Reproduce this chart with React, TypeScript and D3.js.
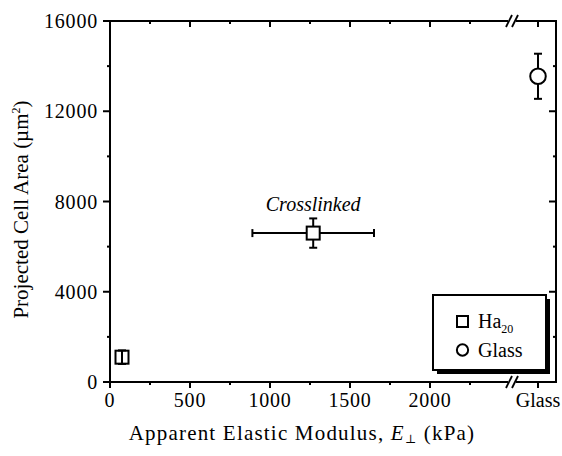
import * as d3 from 'd3';
import React, { useEffect, useRef } from 'react';

// values
const seriesNames = ['Ha20', 'Glass'];
const haModulus = [75, 1270];          // kPa
const haModulusErr = [0, 380];
const haArea = [1100, 6600];           // µm²
const haAreaErr = [300, 650];
const glassArea = [13550];
const glassAreaErr = [1000];
const xMajorTicks = [0, 500, 1000, 1500, 2000];
const xMinorTicks = [250, 750, 1250, 1750, 2250];
const yMajorTicks = [0, 4000, 8000, 12000, 16000];
const yMinorTicks = [2000, 6000, 10000, 14000];
const glassCategory = ['Glass'];

const W = 562;
const H = 456;
const FONT = "'Liberation Serif', 'DejaVu Serif', serif";

const App: React.FC = () => {
    const svgRef = useRef<SVGSVGElement | null>(null);

    useEffect(() => {
        const left = 110, right = 556, top = 21, bottom = 382;
        const breakX = 512;

        d3.select(svgRef.current).selectAll('*').remove();
        const svg = d3.select(svgRef.current).attr('width', W).attr('height', H)
            .style('font-family', FONT);

        const x = d3.scaleLinear().domain([0, 2000]).range([left, 430]);
        const xg = d3.scalePoint().domain(glassCategory).range([520, 556]);
        const y = d3.scaleLinear().domain([0, 16000]).range([bottom, top]);

        const frame = svg.append('g').attr('stroke', '#000').attr('stroke-width', 2).attr('fill', 'none');
        // left / right sides
        frame.append('line').attr('x1', left).attr('x2', left).attr('y1', top).attr('y2', bottom);
        frame.append('line').attr('x1', right).attr('x2', right).attr('y1', top).attr('y2', bottom);
        // top and bottom with a gap for the break
        [top, bottom].forEach(yy => {
            frame.append('line').attr('x1', left - 1).attr('x2', breakX - 4).attr('y1', yy).attr('y2', yy);
            frame.append('line').attr('x1', breakX + 4).attr('x2', right + 1).attr('y1', yy).attr('y2', yy);
            [-3, 3].forEach(dx => {
                frame.append('line')
                    .attr('x1', breakX + dx - 3).attr('x2', breakX + dx + 3)
                    .attr('y1', yy + 6).attr('y2', yy - 6)
                    .attr('stroke-width', 1.8);
            });
        });

        // x ticks (bottom outward, top inward)
        const tickG = svg.append('g').attr('stroke', '#000').attr('stroke-width', 2);
        const xTickPos = [
            ...xMajorTicks.map(v => ({ px: x(v), len: 6 })),
            ...xMinorTicks.map(v => ({ px: x(v), len: 3 })),
            { px: xg('Glass')!, len: 6 },
        ];
        xTickPos.forEach(t => {
            tickG.append('line').attr('x1', t.px).attr('x2', t.px).attr('y1', bottom).attr('y2', bottom + t.len);
            tickG.append('line').attr('x1', t.px).attr('x2', t.px).attr('y1', top).attr('y2', top + t.len);
        });
        const yTickPos = [
            ...yMajorTicks.map(v => ({ py: y(v), len: 7 })),
            ...yMinorTicks.map(v => ({ py: y(v), len: 3 })),
        ];
        yTickPos.forEach(t => {
            tickG.append('line').attr('x1', left - t.len).attr('x2', left).attr('y1', t.py).attr('y2', t.py);
            tickG.append('line').attr('x1', right - t.len).attr('x2', right).attr('y1', t.py).attr('y2', t.py);
        });

        // tick labels
        const labels = svg.append('g').style('font-family', FONT).attr('font-size', 20).attr('fill', '#000');
        xMajorTicks.forEach(v => {
            labels.append('text').attr('x', x(v)).attr('y', 407).attr('text-anchor', 'middle')
                .attr('letter-spacing', 0.8).text(d3.format('d')(v));
        });
        labels.append('text').attr('x', xg('Glass')!).attr('y', 407).attr('text-anchor', 'middle').text('Glass');
        yMajorTicks.forEach(v => {
            labels.append('text').attr('x', 98).attr('y', y(v) + 7).attr('text-anchor', 'end')
                .attr('letter-spacing', 0.8).text(d3.format('d')(v));
        });

        // axis titles
        const xt = labels.append('text').attr('x', 302).attr('y', 440).attr('text-anchor', 'middle')
            .attr('font-size', 21).attr('letter-spacing', 1.2);
        xt.append('tspan').text('Apparent Elastic Modulus, ');
        xt.append('tspan').attr('font-style', 'italic').text('E');
        xt.append('tspan').attr('font-size', 12).attr('dy', 3).text('⊥');
        xt.append('tspan').attr('dy', -3).text(' (kPa)');

        const yt = labels.append('text')
            .attr('transform', `translate(28,${(top + bottom) / 2 + 8}) rotate(-90)`)
            .attr('text-anchor', 'middle')
            .attr('font-size', 21);
        yt.append('tspan').text('Projected Cell Area (µm');
        yt.append('tspan').attr('font-size', 12).attr('dy', -8).text('2');
        yt.append('tspan').attr('dy', 8).text(')');

        // error bars
        const err = svg.append('g').attr('stroke', '#000').attr('stroke-width', 2);
        const cap = 4;
        haModulus.forEach((m, i) => {
            const cx = x(m), cy = y(haArea[i]);
            if (haModulusErr[i] > 0) {
                const x0 = x(m - haModulusErr[i]), x1 = x(m + haModulusErr[i]);
                err.append('line').attr('x1', x0).attr('x2', x1).attr('y1', cy).attr('y2', cy);
                err.append('line').attr('x1', x0).attr('x2', x0).attr('y1', cy - cap).attr('y2', cy + cap);
                err.append('line').attr('x1', x1).attr('x2', x1).attr('y1', cy - cap).attr('y2', cy + cap);
            }
            const y0 = y(haArea[i] - haAreaErr[i]), y1 = y(haArea[i] + haAreaErr[i]);
            err.append('line').attr('x1', cx).attr('x2', cx).attr('y1', y0).attr('y2', y1);
            err.append('line').attr('x1', cx - cap).attr('x2', cx + cap).attr('y1', y0).attr('y2', y0);
            err.append('line').attr('x1', cx - cap).attr('x2', cx + cap).attr('y1', y1).attr('y2', y1);
        });
        glassArea.forEach((a, i) => {
            const cx = xg('Glass')!;
            const y0 = y(a - glassAreaErr[i]), y1 = y(a + glassAreaErr[i]);
            err.append('line').attr('x1', cx).attr('x2', cx).attr('y1', y0).attr('y2', y1);
            err.append('line').attr('x1', cx - cap).attr('x2', cx + cap).attr('y1', y0).attr('y2', y0);
            err.append('line').attr('x1', cx - cap).attr('x2', cx + cap).attr('y1', y1).attr('y2', y1);
        });

        // markers
        const sq = 13;
        svg.append('g').selectAll('rect')
            .data(haModulus)
            .enter()
            .append('rect')
            .attr('x', d => x(d) - sq / 2)
            .attr('y', (d, i) => y(haArea[i]) - sq / 2)
            .attr('width', sq)
            .attr('height', sq)
            .attr('fill', (d, i) => (i === 0 ? 'none' : '#fff'))
            .attr('stroke', '#000')
            .attr('stroke-width', 2);

        const circle = d3.symbol().type(d3.symbolCircle).size(190);
        svg.append('g').selectAll('path')
            .data(glassArea)
            .enter()
            .append('path')
            .attr('d', circle)
            .attr('transform', d => `translate(${xg('Glass')},${y(d)})`)
            .attr('fill', '#fff')
            .attr('stroke', '#000')
            .attr('stroke-width', 2);

        // annotation
        svg.append('text')
            .attr('x', x(haModulus[1]))
            .attr('y', 211)
            .attr('text-anchor', 'middle')
            .style('font-family', FONT)
            .attr('font-style', 'italic')
            .attr('font-size', 20)
            .text('Crosslinked');

        // legend with drop shadow
        const lg = svg.append('g').attr('transform', 'translate(433,295)');
        lg.append('rect').attr('x', 4).attr('y', 4).attr('width', 113).attr('height', 75).attr('fill', '#000');
        lg.append('rect').attr('x', 0).attr('y', 0).attr('width', 113).attr('height', 75)
            .attr('fill', '#fff').attr('stroke', '#000').attr('stroke-width', 2);
        lg.append('rect').attr('x', 24).attr('y', 21).attr('width', 11).attr('height', 11)
            .attr('fill', '#fff').attr('stroke', '#000').attr('stroke-width', 2);
        lg.append('path').attr('d', d3.symbol().type(d3.symbolCircle).size(100)())
            .attr('transform', 'translate(29.5,55)')
            .attr('fill', '#fff').attr('stroke', '#000').attr('stroke-width', 2);
        const l1 = lg.append('text').attr('x', 45).attr('y', 33).style('font-family', FONT).attr('font-size', 20);
        l1.append('tspan').text('Ha');
        l1.append('tspan').attr('font-size', 12).attr('dy', 5).text(seriesNames[0].slice(2));
        lg.append('text').attr('x', 45).attr('y', 62).style('font-family', FONT).attr('font-size', 20).text(seriesNames[1]);
    }, []);

    return (
        <div style={{ position: 'absolute', left: 0, top: 0 }}>
            <svg ref={svgRef} style={{ display: 'block', background: '#fff' }}></svg>
        </div>
    );
};

export default App;
